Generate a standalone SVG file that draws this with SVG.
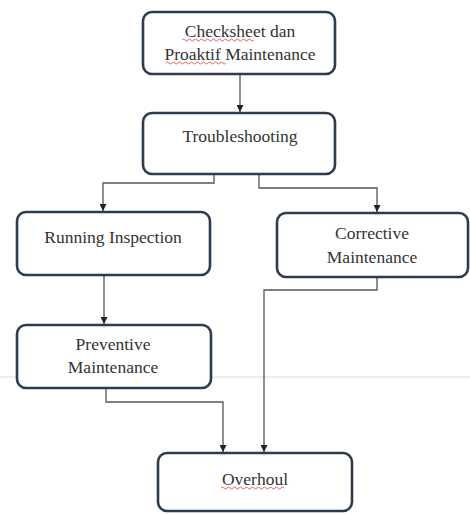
<svg xmlns="http://www.w3.org/2000/svg" width="470" height="514" viewBox="0 0 470 514">
<defs>
<style>
.box{fill:#fff;stroke:#2e3b4c;stroke-width:2.6}
.lbl{font-family:'Liberation Serif','Times New Roman','DejaVu Serif',serif;font-size:17.5px;fill:#333;text-anchor:middle}
.con{fill:none;stroke:#555;stroke-width:1.3}
.sq{fill:none;stroke:#d04040;stroke-width:0.8}
</style>
<marker id="ah" viewBox="0 0 10 10" refX="10" refY="5" markerWidth="7" markerHeight="7" markerUnits="userSpaceOnUse" orient="auto">
<path d="M0,0 L10,5 L0,10 z" fill="#222"/>
</marker>
</defs>
<rect width="470" height="514" fill="#fff"/>
<line x1="0" y1="377" x2="470" y2="377" stroke="#d5dbe3" stroke-width="1"/>
<g id="connectors">
<path class="con" d="M240,75 V112" marker-end="url(#ah)"/>
<path class="con" d="M214,174 V183 H103 V211" marker-end="url(#ah)"/>
<path class="con" d="M259,174 V188 H377 V212" marker-end="url(#ah)"/>
<path class="con" d="M104,275 V324" marker-end="url(#ah)"/>
<path class="con" d="M106,388 V402 H223 V452" marker-end="url(#ah)"/>
<path class="con" d="M377,277 V290 H264 V452" marker-end="url(#ah)"/>
</g>
<g id="n_checksheet">
<rect class="box" x="143" y="12" width="192" height="62" rx="9"/>
<text class="lbl" x="240" y="37" font-family="Liberation Serif">Checksheet dan</text>
<text class="lbl" x="240" y="60" font-family="Liberation Serif">Proaktif Maintenance</text>
<path class="sq" d="M182,40 q1.5,-2 3,0 t3,0 t3,0 t3,0 t3,0 t3,0 t3,0 t3,0 t3,0 t3,0 t3,0 t3,0 t3,0 t3,0 t3,0 t3,0 t3,0 t3,0 t3,0 t3,0 t3,0 t3,0 t3,0 t3,0"/>
<path class="sq" d="M166,63 q1.5,-2 3,0 t3,0 t3,0 t3,0 t3,0 t3,0 t3,0 t3,0 t3,0 t3,0 t3,0 t3,0 t3,0 t3,0 t3,0 t3,0 t3,0 t3,0 t3,0 t3,0"/>
</g>
<g id="n_troubleshooting">
<rect class="box" x="143" y="113" width="192" height="61" rx="9"/>
<text class="lbl" x="240" y="142">Troubleshooting</text>
</g>
<g id="n_running">
<rect class="box" x="17" y="212" width="193" height="63" rx="9"/>
<text class="lbl" x="113" y="243">Running Inspection</text>
</g>
<g id="n_corrective">
<rect class="box" x="277" y="213" width="191" height="64" rx="9"/>
<text class="lbl" x="372" y="239">Corrective</text>
<text class="lbl" x="372" y="263">Maintenance</text>
</g>
<g id="n_preventive">
<rect class="box" x="17" y="325" width="194" height="63" rx="9"/>
<text class="lbl" x="113" y="350">Preventive</text>
<text class="lbl" x="113" y="373">Maintenance</text>
</g>
<g id="n_overhoul">
<rect class="box" x="158" y="453" width="194" height="58" rx="9"/>
<text class="lbl" x="255" y="485">Overhoul</text>
<path class="sq" d="M221,488 q1.5,-2 3,0 t3,0 t3,0 t3,0 t3,0 t3,0 t3,0 t3,0 t3,0 t3,0 t3,0 t3,0 t3,0 t3,0 t3,0 t3,0 t3,0 t3,0 t3,0 t3,0 t3,0"/>
</g>
</svg>
